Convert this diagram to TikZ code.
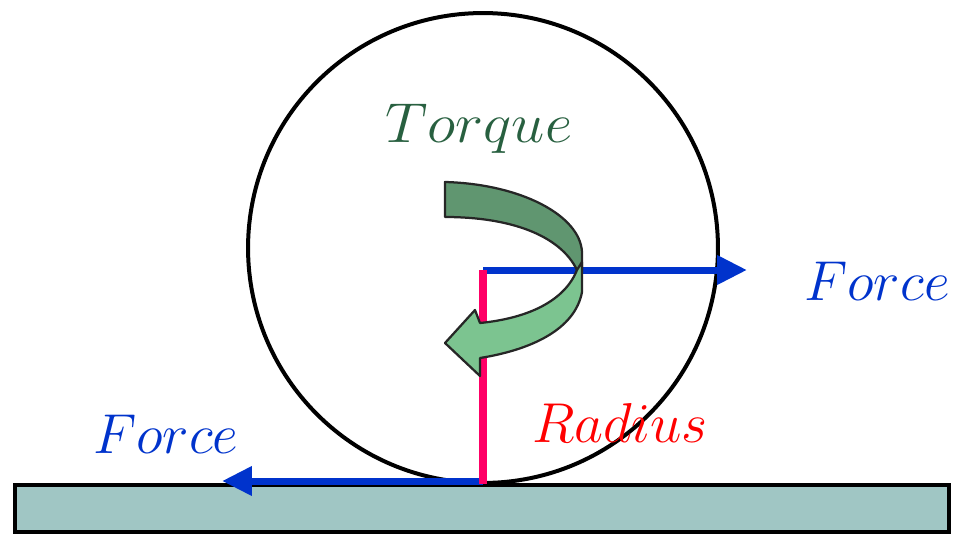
\RequirePackage{fix-cm}
\documentclass[tikz,border=0pt]{standalone}
\usepackage{xcolor}
\usepackage{tikz}
\usetikzlibrary{arrows.meta}
\definecolor{forceblue}{RGB}{0,51,204}
\definecolor{armred}{RGB}{255,0,102}
\definecolor{groundfill}{RGB}{160,198,196}
\definecolor{torquedark}{RGB}{96,150,112}
\definecolor{torquelight}{RGB}{124,196,144}
\definecolor{torquetext}{RGB}{40,96,64}
\tikzstyle{textlabel} = [inner sep=0pt, anchor=base, font=\fontsize{32}{38}\selectfont]
\tikzstyle{force} = [draw=forceblue, line width=0.14cm, -{Triangle[length=0.6cm, width=0.56cm]}]

\begin{document}
\begin{tikzpicture}[x=0.02cm, y=-0.02cm]
        % 样式定义
        \tikzstyle{wheel} = [draw, circle, line width=0.08cm, minimum size=9.4cm, inner sep=0pt]
        \tikzstyle{ground} = [draw, fill=groundfill, line width=0.08cm]
        \tikzstyle{arm} = [draw=armred, line width=0.15cm]
        \tikzstyle{twist} = [draw=black!85, line width=0.045cm, line join=round]

        \useasboundingbox (0,0) rectangle (953,534);

        % 地面与车轮
        \draw [ground] (15,485) rectangle (949,532);
        \node [wheel] (wheel) at (483,248) {};

        % 坐标点
        \coordinate (hub) at (483,270);
        \coordinate (contact) at (483,484);
        \coordinate (foot) at (483,481);
        \coordinate (rightend) at (747,270);
        \coordinate (leftend) at (222,481);

        % 力与半径
        \draw [force] (hub) -- (rightend);
        \draw [force] (foot) -- (leftend);
        \draw [arm] (contact) -- (hub);

        % 力矩箭头
        \draw [twist, fill=torquedark] (445,182) .. controls (520,184) and (580,215) .. (582,252)
            -- (582,270) -- (577,270) .. controls (560,235) and (510,217) .. (445,217) -- cycle;
        \draw [twist, fill=torquelight] (582,262) -- (582,292) .. controls (575,330) and (530,350) .. (480,358)
            -- (480,376) -- (445,343) -- (475,310) -- (480,323)
            .. controls (530,318) and (565,300) .. (577,270) -- cycle;

        % 标注
        \node [textlabel, text=torquetext, xscale=1.06] (torque) at (479,142) {$Torque$};
        \node [textlabel, text=forceblue] (forceR) at (877,300) {$Force$};
        \node [textlabel, text=forceblue] (forceL) at (166,453) {$Force$};
        \node [textlabel, text=red] (radius) at (620,442) {$Radius$};
    \end{tikzpicture}
\end{document}
